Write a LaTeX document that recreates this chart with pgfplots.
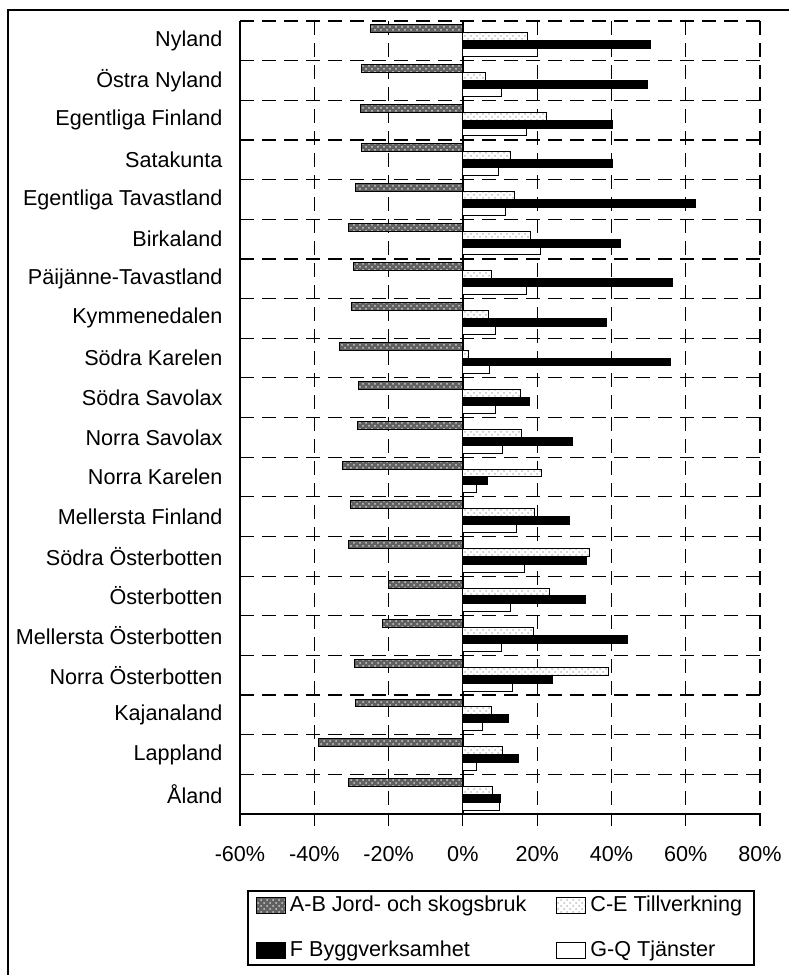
\documentclass[border=0pt]{standalone}
\usepackage{fontspec}
\setmainfont{Liberation Sans}
\usepackage{pgfplots}
\usepackage{pgfplotstable}
\pgfplotsset{compat=1.18}
\usetikzlibrary{patterns}

\pgfplotstableread{
idx AB CE F GQ
0 -25.0 17.4 50.6 20.1
1 -27.4 6.0 49.8 10.3
2 -27.6 22.6 40.3 17.0
3 -27.4 12.7 40.3 9.6
4 -28.9 13.8 62.5 11.6
5 -30.7 18.3 42.4 20.8
6 -29.4 7.6 56.4 17.0
7 -30.1 6.9 38.7 8.9
8 -33.1 1.6 55.8 7.2
9 -28.0 15.4 17.9 8.9
10 -28.5 15.7 29.5 10.7
11 -32.4 21.1 6.6 3.6
12 -30.2 19.3 28.6 14.5
13 -30.9 34.2 33.3 16.7
14 -19.9 23.4 32.9 12.9
15 -21.6 19.0 44.2 10.5
16 -29.1 39.1 24.0 13.3
17 -28.9 7.8 12.3 5.2
18 -39.0 10.7 15.1 3.6
19 -30.9 8.0 10.1 9.8
}\datatable

\begin{document}
\fontsize{10.8}{13}\selectfont
\begin{tikzpicture}
\path[use as bounding box] (0,0) rectangle (394.5pt,487.5pt);
\draw[line width=1pt] (4pt,0) -- (4pt,482.5pt) -- (394.5pt,482.5pt);
\begin{axis}[
  at={(120pt,80.5pt)}, anchor=south west,
  scale only axis, width=260pt, height=396.5pt,
  xbar, bar width=0.2,
  xmin=-60, xmax=80,
  xtick={-60,-40,-20,0,20,40,60,80},
  xticklabels={-60\%,-40\%,-20\%,0\%,20\%,40\%,60\%,80\%},
  extra x ticks={0},
  extra x tick labels={},
  extra x tick style={grid=major, major grid style={solid, line width=0.9pt, black}},
  ymin=-0.5, ymax=19.5, y dir=reverse,
  ytick={-0.5,0.5,1.5,2.5,3.5,4.5,5.5,6.5,7.5,8.5,9.5,10.5,11.5,12.5,13.5,14.5,15.5,16.5,17.5,18.5},
  yticklabels={},
  ytick style={draw=none},
  extra y ticks={0,1,2,3,4,5,6,7,8,9,10,11,12,13,14,15,16,17,18,19},
  extra y tick labels={Nyland,Östra Nyland,Egentliga Finland,Satakunta,Egentliga Tavastland,Birkaland,Päijänne-Tavastland,Kymmenedalen,Södra Karelen,Södra Savolax,Norra Savolax,Norra Karelen,Mellersta Finland,Södra Österbotten,Österbotten,Mellersta Österbotten,Norra Österbotten,Kajanaland,Lappland,Åland},
  extra y tick style={grid=none, tick style={draw=none}},
  ymajorgrids=true,
  xmajorgrids=true,
  major grid style={dash pattern=on 7pt off 4pt, line width=0.6pt, line cap=butt, black},
  axis x line*=bottom, axis y line*=left,
  axis line style={line width=1pt, -},
  tick align=outside,
  major tick length=6pt,
  xtick style={line width=0.6pt, black},
  tick label style={font=\fontsize{10.8}{13}\selectfont},
  xticklabel style={yshift=-6.5pt},
  yticklabel style={xshift=1pt},
  legend image code/.code={\draw[#1, line width=0.5pt] (0pt,-4pt) rectangle (14.5pt,4pt);},
  legend columns=2,
  legend cell align=left,
  legend style={at={(0.0135,-0.0958)}, anchor=north west, draw=black, line width=0.9pt,
    font=\fontsize{10.8}{13}\selectfont, row sep=9pt, inner ysep=0.5pt, inner xsep=4pt,
    /tikz/every even column/.append style={column sep=13pt}},
]
\addplot[bar shift=-0.3, draw=black, line width=0.5pt, fill=black!62, postaction={pattern=crosshatch dots, pattern color=black!20}] table[x=AB, y=idx] {\datatable};
\addplot[bar shift=-0.1, draw=black, line width=0.5pt, fill=white, postaction={pattern=crosshatch dots, pattern color=black!25}] table[x=CE, y=idx] {\datatable};
\addplot[bar shift=0.1, draw=black, line width=0.5pt, fill=black] table[x=F, y=idx] {\datatable};
\addplot[bar shift=0.3, draw=black, line width=0.5pt, fill=white] table[x=GQ, y=idx] {\datatable};
\addlegendentry{A-B Jord- och skogsbruk}
\addlegendentry{C-E Tillverkning\hspace{9pt}}
\addlegendentry{F Byggverksamhet}
\addlegendentry{G-Q Tjänster}
\end{axis}
\end{tikzpicture}
\end{document}
